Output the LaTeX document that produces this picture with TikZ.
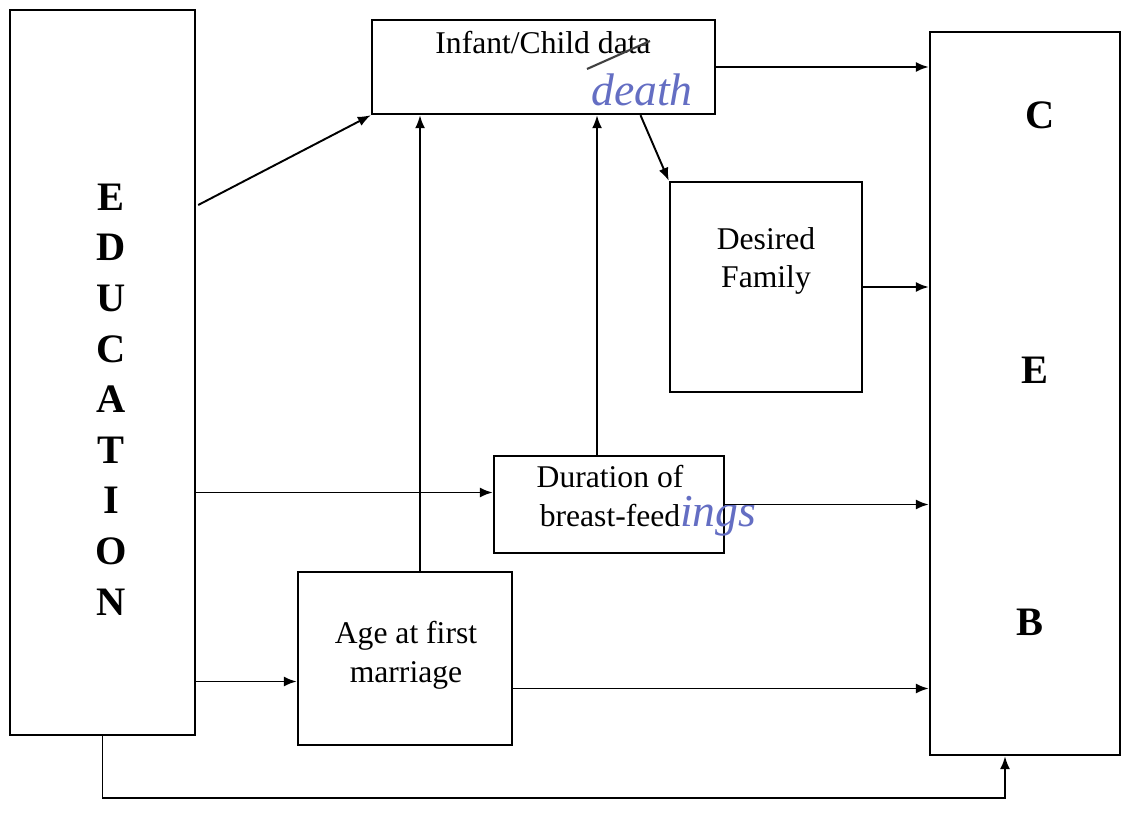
\documentclass[tikz,border=0pt]{standalone}
\usepackage{fontspec}
\setmainfont{Liberation Serif}
\usetikzlibrary{arrows.meta,calc,positioning}
\definecolor{ink}{RGB}{100,110,195}

\begin{document}
\begin{tikzpicture}[x=0.02cm,y=-0.02cm,
    box/.style={draw,line width=1.4pt,inner sep=0pt},
    arr/.style={line width=1.1pt,-{Latex[length=2.6mm,width=2mm]}},
    txt/.style={font=\fontsize{18}{22}\selectfont,align=center},
    big/.style={font=\fontsize{23}{27}\selectfont\bfseries},
    hand/.style={text=ink,font=\fontsize{26}{30}\selectfont\itshape}]
    \useasboundingbox (0,0) rectangle (1138,813);

    \node (edu) [box,minimum width=3.7cm,minimum height=14.5cm] at (102.5,372.5) {};
    \node (infant) [box,minimum width=6.86cm,minimum height=1.88cm] at (543.5,67) {};
    \node (desired) [box,minimum width=3.84cm,minimum height=4.2cm] at (766,287) {};
    \node (duration) [box,minimum width=4.6cm,minimum height=1.94cm] at (609,504.5) {};
    \node (age) [box,minimum width=4.28cm,minimum height=3.46cm] at (405,658.5) {};
    \node (ceb) [box,minimum width=3.8cm,minimum height=14.46cm] at (1025,393.5) {};

    % texts
    \node (infanttxt) [txt] at (543,43) {Infant/Child data};
    \draw[line width=1.2pt,black!75] ($(infanttxt.center)+(44,26)$) -- ($(infanttxt.center)+(107,-2)$);
    \node (deathtxt) [hand] at (642,90) {death};
    \node (desiredtxt) [txt] at (766,261) {Desired\\Family};
    \node (durationtxt) [txt] at (610,501) {Duration of\\breast-feed\rlap{\textcolor{ink}{\itshape\fontsize{26}{30}\selectfont ings}}};
    \node (agetxt) [txt] at (406,655) {Age at first\\marriage};

    \foreach \l [count=\i] in {E,D,U,C,A,T,I,O,N}
        \node (edu-\i) [big] at (111,{146.5+50.6*\i}) {\l};

    \node (ceb-c) [big] at (1040,115) {C};
    \node (ceb-e) [big] at (1035,370) {E};
    \node (ceb-b) [big] at (1030,622) {B};

    % arrows
    \draw[arr] ($(edu.east)+(2,-167.5)$) -- (infant.south west);
    \draw[arr] ($(age.north)+(15,0)$) coordinate (agetop) -- (agetop |- infant.south);
    \draw[arr] ($(duration.north)+(-12,0)$) coordinate (durtop) -- (durtop |- infant.south);
    \draw[arr] ($(infant.south)+(97,0)$) -- (desired.north west);
    \draw[arr] (infant.east) -- (infant.east -| ceb.west);
    \draw[arr] (desired.east) -- (desired.east -| ceb.west);
    \draw[arr] ($(duration.west)+(0,-12)$) coordinate (durin) (durin -| edu.east) -- (durin);
    \draw[arr] (duration.east) -- (duration.east -| ceb.west);
    \draw[arr] ($(age.west)+(0,23)$) coordinate (agein) (agein -| edu.east) -- (agein);
    \draw[arr] ($(age.east)+(0,30)$) coordinate (ageout) -- (ageout -| ceb.west);
    \draw[arr] (edu.south) -- ++(0,62) -| ($(ceb.south)+(-20,0)$);

\end{tikzpicture}
\end{document}
